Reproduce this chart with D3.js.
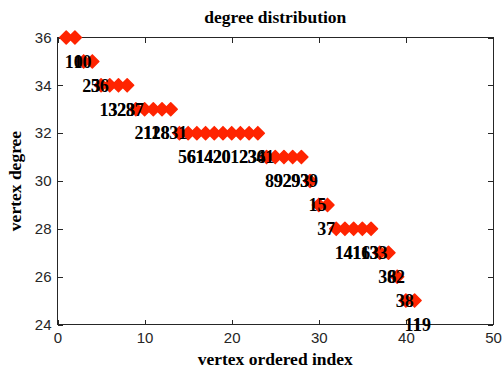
<!DOCTYPE html>
<html>
<head>
<meta charset="utf-8">
<script src="https://cdn.jsdelivr.net/npm/d3@7"></script>
<style>
    body { margin: 0; background: #ffffff; }
    svg { display: block; }
</style>
</head>
<body>
<div id="chart"></div>
<script>
// vertex degree for each ordered index (1..41)
const degrees = [
    36, 36,
    35, 35,
    34, 34, 34, 34,
    33, 33, 33, 33, 33,
    32, 32, 32, 32, 32, 32, 32, 32, 32, 32,
    31, 31, 31, 31, 31,
    30,
    29, 29,
    28, 28, 28, 28, 28,
    27, 27,
    26,
    25, 25
];

// vertex ids written under each point (they overlap in the original)
const vertexLabels = [
    "10", "10",
    "23", "56",
    "13", "32", "23", "87",
    "21", "11", "28", "8", "31",
    "56", "61", "14", "42", "20", "0", "12", "23", "36", "41",
    "89", "92", "29", "93", "39",
    "15",
    "3", "7",
    "14", "41", "16", "13", "33",
    "36", "82",
    "38",
    "11", "19"
];

const xTicks = [0, 10, 20, 30, 40, 50];
const yTicks = [24, 26, 28, 30, 32, 34, 36];

const sizes = {
    width: 504,
    height: 374,
    left: 57.5,
    right: 493,
    top: 37.5,
    bottom: 324.5,
    tickLength: 5,
    markerRadius: 6.5
};

const markerColor = "#ff2400";
const serif = "'Liberation Serif', 'Times New Roman', serif";
const sans = "'Liberation Sans', Arial, sans-serif";

const svg = d3.select("#chart")
    .append("svg")
    .attr("width", sizes.width)
    .attr("height", sizes.height);

const xScale = d3.scaleLinear()
    .domain([0, 50])
    .range([sizes.left, sizes.right]);

const yScale = d3.scaleLinear()
    .domain([24, 36])
    .range([sizes.bottom, sizes.top]);

function drawAxes() {
    const bottomAxis = d3.axisBottom(xScale)
        .tickValues(xTicks)
        .tickSizeInner(-sizes.tickLength)
        .tickSizeOuter(0)
        .tickPadding(8);

    const topAxis = d3.axisTop(xScale)
        .tickValues(xTicks)
        .tickSizeInner(-sizes.tickLength)
        .tickSizeOuter(0)
        .tickFormat("");

    const leftAxis = d3.axisLeft(yScale)
        .tickValues(yTicks)
        .tickSizeInner(-sizes.tickLength)
        .tickSizeOuter(0)
        .tickPadding(6);

    const rightAxis = d3.axisRight(yScale)
        .tickValues(yTicks)
        .tickSizeInner(-sizes.tickLength)
        .tickSizeOuter(0)
        .tickFormat("");

    const axes = [
        [bottomAxis, "translate(0," + sizes.bottom + ")"],
        [topAxis, "translate(0," + sizes.top + ")"],
        [leftAxis, "translate(" + sizes.left + ",0)"],
        [rightAxis, "translate(" + sizes.right + ",0)"]
    ];

    axes.forEach(([axis, transform]) => {
        const g = svg.append("g")
            .attr("transform", transform)
            .call(axis);
        g.select(".domain").remove();
        g.selectAll(".tick line")
            .attr("stroke", "#262626")
            .attr("shape-rendering", "crispEdges");
        g.selectAll(".tick text")
            .attr("fill", "#262626")
            .style("font-family", sans)
            .style("font-size", "15px");
    });

    svg.append("rect")
        .attr("x", sizes.left)
        .attr("y", sizes.top)
        .attr("width", sizes.right - sizes.left)
        .attr("height", sizes.bottom - sizes.top)
        .attr("fill", "none")
        .attr("stroke", "#262626")
        .attr("shape-rendering", "crispEdges");
}

function drawPoints() {
    const r = sizes.markerRadius;
    const points = degrees.map((d, i) => ({ index: i + 1, degree: d, label: vertexLabels[i] }));

    svg.append("g")
        .selectAll("path")
        .data(points)
        .join("path")
        .attr("d", p => {
            const cx = xScale(p.index), cy = yScale(p.degree);
            return "M" + cx + "," + (cy - r) + "L" + (cx + r) + "," + cy +
                "L" + cx + "," + (cy + r) + "L" + (cx - r) + "," + cy + "Z";
        })
        .attr("fill", markerColor)
        .attr("stroke", markerColor)
        .attr("stroke-width", 1.5)
        .attr("stroke-linejoin", "round");

    // labels sit one degree below their point, left aligned
    svg.append("g")
        .selectAll("text")
        .data(points)
        .join("text")
        .attr("x", p => xScale(p.index))
        .attr("y", p => yScale(p.degree - 1))
        .attr("dx", -1.5)
        .attr("dy", "0.35em")
        .attr("fill", "#000")
        .style("font-family", serif)
        .style("font-weight", "bold")
        .style("font-size", "18px")
        .text(p => p.label);
}

function drawTitles() {
    const cx = (sizes.left + sizes.right) / 2;

    svg.append("text")
        .attr("x", cx)
        .attr("y", 23)
        .attr("text-anchor", "middle")
        .style("font-family", serif)
        .style("font-weight", "bold")
        .style("font-size", "17.5px")
        .text("degree distribution");

    svg.append("text")
        .attr("x", cx)
        .attr("y", 365)
        .attr("text-anchor", "middle")
        .style("font-family", serif)
        .style("font-weight", "bold")
        .style("font-size", "17.5px")
        .text("vertex ordered index");

    svg.append("text")
        .attr("transform", "translate(21," + ((sizes.top + sizes.bottom) / 2) + ") rotate(-90)")
        .attr("text-anchor", "middle")
        .style("font-family", serif)
        .style("font-weight", "bold")
        .style("font-size", "17.5px")
        .text("vertex degree");
}

drawAxes();
drawPoints();
drawTitles();
</script>
</body>
</html>
